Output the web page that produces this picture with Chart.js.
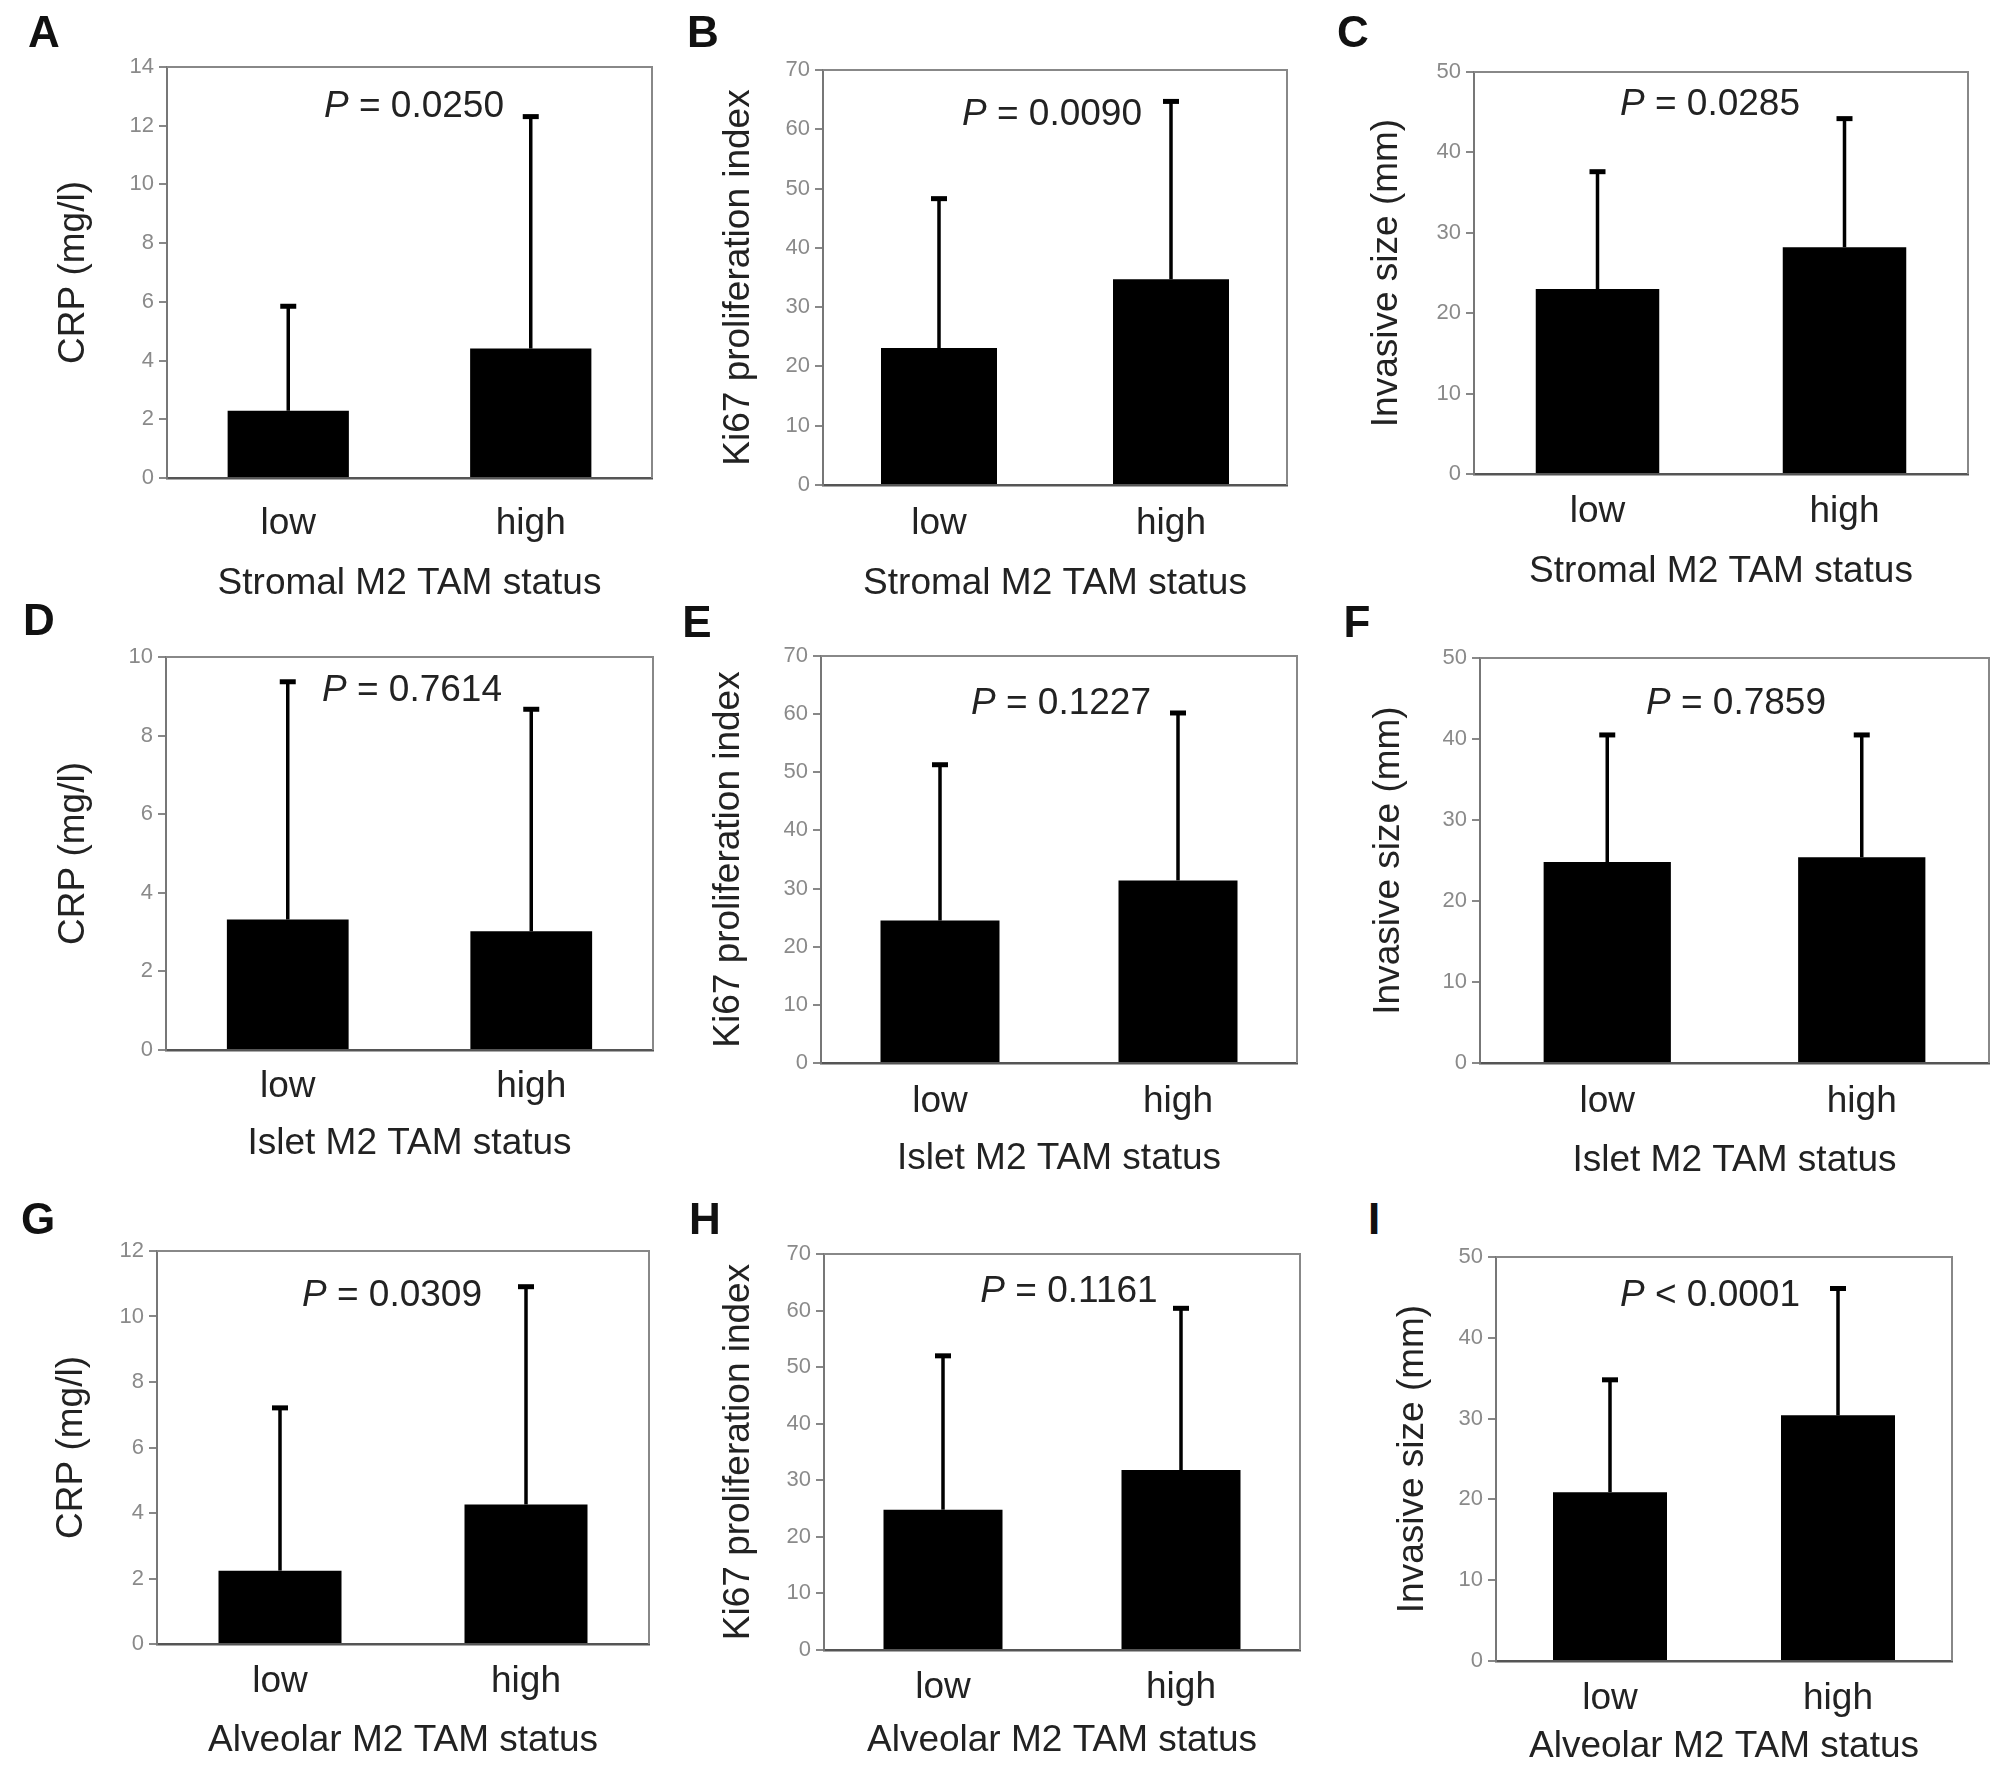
<!DOCTYPE html>
<html>
<head>
<meta charset="utf-8">
<script src="https://cdn.jsdelivr.net/npm/chart.js@4"></script>
<style>
  html, body { margin: 0; padding: 0; background: #fff; }
  body { width: 2008px; height: 1768px; position: relative; overflow: hidden; font-family: "Liberation Sans", Arial, sans-serif; }
  .panel { position: absolute; }
  .letter { position: absolute; font-weight: bold; font-size: 44px; color: #111; transform: translate(-50%, -50%); }
  .pval { position: absolute; font-size: 37px; color: #222; white-space: nowrap; transform: translate(-50%, -50%); }
</style>
</head>
<body>
<script>
// categories and values (mean, SD)
const categories = ['low', 'high'];

const crpStromal = [2.29, 4.41];
const crpStromalSd = [3.56, 7.90];
const ki67Stromal = [23.1, 34.7];
const ki67StromalSd = [25.2, 30.0];
const sizeStromal = [23.0, 28.2];
const sizeStromalSd = [14.6, 16.0];

const crpIslet = [3.32, 3.02];
const crpIsletSd = [6.05, 5.65];
const ki67Islet = [24.5, 31.4];
const ki67IsletSd = [26.8, 28.8];
const sizeIslet = [24.8, 25.4];
const sizeIsletSd = [15.7, 15.1];

const crpAlveolar = [2.24, 4.26];
const crpAlveolarSd = [4.97, 6.65];
const ki67Alveolar = [24.8, 31.8];
const ki67AlveolarSd = [27.2, 28.6];
const sizeAlveolar = [20.9, 30.4];
const sizeAlveolarSd = [13.9, 15.7];

// axis maxima / steps
const yMax = [14, 70, 50, 10, 70, 50, 12, 70, 50];
const yStep = [2, 10, 10, 2, 10, 10, 2, 10, 10];

const yTitles = ['CRP (mg/l)', 'Ki67 proliferation index', 'Invasive size (mm)'];
const xTitles = ['Stromal M2 TAM status', 'Islet M2 TAM status', 'Alveolar M2 TAM status'];
const letters = ['A', 'B', 'C', 'D', 'E', 'F', 'G', 'H', 'I'];
const pSigns = ['=', '=', '=', '=', '=', '=', '=', '=', '<'];
const pValues = ['0.0250', '0.0090', '0.0285', '0.7614', '0.1227', '0.7859', '0.0309', '0.1161', '0.0001'];

const means = [crpStromal, ki67Stromal, sizeStromal, crpIslet, ki67Islet, sizeIslet, crpAlveolar, ki67Alveolar, sizeAlveolar];
const sds = [crpStromalSd, ki67StromalSd, sizeStromalSd, crpIsletSd, ki67IsletSd, sizeIsletSd, crpAlveolarSd, ki67AlveolarSd, sizeAlveolarSd];

// layout of each panel: plot box, y title x, tick label offset, x title offset, p-value pos, letter pos
const layout = [
  { l: 167, t: 67, r: 652, b: 478, yt: 74, lo: 44, to: 101, px: 414, py: 105, lx: 44, ly: 32 },
  { l: 823, t: 70, r: 1287, b: 485, yt: 739, lo: 37, to: 94, px: 1052, py: 113, lx: 703, ly: 32 },
  { l: 1474, t: 72, r: 1968, b: 474, yt: 1387, lo: 36, to: 93, px: 1710, py: 103, lx: 1353, ly: 32 },
  { l: 166, t: 657, r: 653, b: 1050, yt: 74, lo: 35, to: 89, px: 412, py: 689, lx: 39, ly: 620 },
  { l: 821, t: 656, r: 1297, b: 1063, yt: 729, lo: 37, to: 91, px: 1061, py: 702, lx: 697, ly: 622 },
  { l: 1480, t: 658, r: 1989, b: 1063, yt: 1389, lo: 37, to: 93, px: 1736, py: 702, lx: 1357, ly: 622 },
  { l: 157, t: 1251, r: 649, b: 1644, yt: 72, lo: 36, to: 92, px: 392, py: 1294, lx: 38, ly: 1219 },
  { l: 824, t: 1254, r: 1300, b: 1650, yt: 739, lo: 36, to: 86, px: 1069, py: 1290, lx: 705, ly: 1219 },
  { l: 1496, t: 1257, r: 1952, b: 1661, yt: 1413, lo: 36, to: 81, px: 1710, py: 1294, lx: 1374, ly: 1219 }
];

const FONT = '"Liberation Sans", Arial, sans-serif';

// upper error bars (mean + SD)
const errorBars = {
  id: 'errorBars',
  afterDatasetsDraw(chart) {
    const ctx = chart.ctx;
    const ds = chart.data.datasets[0];
    const meta = chart.getDatasetMeta(0);
    const y = chart.scales.y;
    ctx.save();
    ctx.strokeStyle = '#000';
    meta.data.forEach((bar, i) => {
      const top = y.getPixelForValue(ds.data[i] + ds.sd[i]);
      ctx.lineWidth = 3.5;
      ctx.beginPath();
      ctx.moveTo(bar.x, bar.y);
      ctx.lineTo(bar.x, top);
      ctx.stroke();
      ctx.lineWidth = 5;
      ctx.beginPath();
      ctx.moveTo(bar.x - 8, top);
      ctx.lineTo(bar.x + 8, top);
      ctx.stroke();
    });
    ctx.restore();
  }
};

// top and right sides of the box
const frame = {
  id: 'frame',
  afterDraw(chart) {
    const a = chart.chartArea;
    const ctx = chart.ctx;
    ctx.save();
    ctx.strokeStyle = '#888';
    ctx.lineWidth = 2;
    ctx.beginPath();
    ctx.moveTo(a.left, a.top);
    ctx.lineTo(a.right, a.top);
    ctx.lineTo(a.right, a.bottom);
    ctx.stroke();
    ctx.restore();
  }
};

layout.forEach((p, i) => {
  const left = p.yt - 30;
  const top = p.t - 50;
  const w = p.r + 12 - left;
  const h = p.b - top + p.to + 27 + 8;

  const div = document.createElement('div');
  div.className = 'panel';
  div.style.left = left + 'px';
  div.style.top = top + 'px';
  div.style.width = w + 'px';
  div.style.height = h + 'px';
  const cv = document.createElement('canvas');
  div.appendChild(cv);
  document.body.appendChild(div);

  new Chart(cv.getContext('2d'), {
    type: 'bar',
    data: {
      labels: categories,
      datasets: [{
        data: means[i],
        sd: sds[i],
        backgroundColor: '#000',
        borderWidth: 0,
        barPercentage: 0.5,
        categoryPercentage: 1.0
      }]
    },
    options: {
      responsive: true,
      maintainAspectRatio: false,
      animation: false,
      devicePixelRatio: 1,
      layout: { padding: { left: 8, top: 50, right: 12, bottom: 8 } },
      plugins: { legend: { display: false }, tooltip: { enabled: false } },
      scales: {
        x: {
          grid: { display: false },
          border: { display: true, color: '#555', width: 2.5 },
          ticks: { color: '#222', padding: p.lo - 28, font: { family: FONT, size: 37 } },
          title: { display: true, text: xTitles[Math.floor(i / 3)], color: '#222', padding: 0, font: { family: FONT, size: 37 } },
          afterFit(s) { s.height = p.to + 27; }
        },
        y: {
          min: 0,
          max: yMax[i],
          ticks: { stepSize: yStep[i], color: '#8a8a8a', padding: 5, font: { family: '"Liberation Sans Narrow", "Liberation Sans", sans-serif', size: 22 } },
          grid: { drawOnChartArea: false, drawTicks: true, tickLength: 8, color: '#888', lineWidth: 2 },
          border: { display: true, color: '#777', width: 2 },
          title: { display: true, text: yTitles[i % 3], color: '#222', padding: 0, font: { family: FONT, size: 37 } },
          afterFit(s) { s.width = p.l - (p.yt - 22); }
        }
      }
    },
    plugins: [errorBars, frame]
  });

  const L = document.createElement('div');
  L.className = 'letter';
  L.style.left = p.lx + 'px';
  L.style.top = p.ly + 'px';
  L.textContent = letters[i];
  document.body.appendChild(L);

  const P = document.createElement('div');
  P.className = 'pval';
  P.style.left = p.px + 'px';
  P.style.top = p.py + 'px';
  P.innerHTML = '<i>P</i> ' + pSigns[i] + ' ' + pValues[i];
  document.body.appendChild(P);
});
</script>
</body>
</html>
